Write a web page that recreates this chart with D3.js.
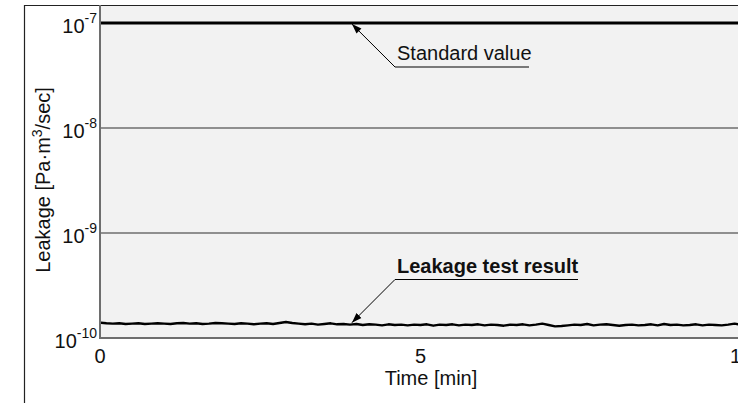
<!DOCTYPE html>
<html>
<head>
<meta charset="utf-8">
<script src="https://cdn.jsdelivr.net/npm/d3@7"></script>
<style>
  html, body { margin: 0; padding: 0; background: #ffffff; }
  svg { display: block; font-family: "Liberation Sans", Arial, Helvetica, sans-serif; }
</style>
</head>
<body>
<svg id="chart" width="738" height="403"></svg>
<script>
// ---- Data ----
const timeMin = d3.range(0, 101).map(i => +(i * 0.1).toFixed(1)); // sample times [min]
const leakageE10 = [
  1.40,1.38,1.37,1.38,1.36,1.37,1.38,1.36,1.37,1.38,
  1.37,1.36,1.38,1.39,1.37,1.38,1.36,1.37,1.39,1.38,
  1.37,1.36,1.38,1.37,1.35,1.37,1.38,1.36,1.39,1.42,
  1.39,1.37,1.35,1.37,1.34,1.36,1.38,1.35,1.36,1.34,
  1.36,1.33,1.35,1.34,1.32,1.35,1.33,1.34,1.32,1.34,
  1.33,1.35,1.31,1.34,1.33,1.35,1.32,1.34,1.33,1.35,
  1.32,1.34,1.33,1.31,1.34,1.33,1.35,1.32,1.34,1.37,
  1.33,1.29,1.30,1.32,1.34,1.33,1.36,1.32,1.34,1.35,
  1.33,1.31,1.33,1.34,1.32,1.33,1.35,1.32,1.36,1.33,
  1.34,1.32,1.33,1.35,1.32,1.34,1.33,1.32,1.34,1.37,
  1.34
]; // leakage in units of 1e-10 Pa·m³/sec
const standardValue = 1e-7;
const xTicks = [0, 5, 10];
const yTickExponents = [-7, -8, -9, -10];
const labels = {
  x: "Time [min]",
  y: ["Leakage [Pa·m", "3", "/sec]"],
  standard: "Standard value",
  result: "Leakage test result"
};

// ---- Layout ----
const W = 738, H = 403;
const plot = { left: 100, top: 5, bottom: 338, right: 738 };
const svg = d3.select("#chart");

const x = d3.scaleLinear().domain([0, 10]).range([plot.left, 741]);
const y = d3.scaleLog()
  .domain([1e-10, Math.pow(10, -7 + 18 / 105)])
  .range([plot.bottom, plot.top]);

const leak = timeMin.map((t, i) => ({ t, v: leakageE10[i] * 1e-10 }));

// plot background
svg.append("rect")
  .attr("x", plot.left).attr("y", plot.top)
  .attr("width", plot.right - plot.left).attr("height", plot.bottom - plot.top)
  .attr("fill", "#f2f2f2");

// gridlines (except top standard line)
yTickExponents.filter(e => e !== -7 && e !== -10).forEach(e => {
  svg.append("line")
    .attr("x1", plot.left).attr("x2", plot.right)
    .attr("y1", y(Math.pow(10, e))).attr("y2", y(Math.pow(10, e)))
    .attr("stroke", "#6e6e6e").attr("stroke-width", 1.6);
});

// outer frame
svg.append("line").attr("x1", 24.5).attr("x2", 24.5).attr("y1", 5).attr("y2", H)
  .attr("stroke", "#222").attr("stroke-width", 1.2);
svg.append("line").attr("x1", 24).attr("x2", W).attr("y1", 5.5).attr("y2", 5.5)
  .attr("stroke", "#222").attr("stroke-width", 1.2);

// axes lines
svg.append("line").attr("x1", plot.left).attr("x2", plot.left)
  .attr("y1", plot.top).attr("y2", plot.bottom + 1)
  .attr("stroke", "#6e6e6e").attr("stroke-width", 2);
svg.append("line").attr("x1", plot.left - 1).attr("x2", plot.right)
  .attr("y1", plot.bottom).attr("y2", plot.bottom)
  .attr("stroke", "#6e6e6e").attr("stroke-width", 2);

// standard value line
svg.append("line")
  .attr("x1", plot.left + 1).attr("x2", plot.right)
  .attr("y1", y(standardValue)).attr("y2", y(standardValue))
  .attr("stroke", "#000").attr("stroke-width", 3);

// leakage line (clipped to plot)
svg.append("clipPath").attr("id", "clip").append("rect")
  .attr("x", plot.left + 1).attr("y", plot.top)
  .attr("width", plot.right - plot.left).attr("height", plot.bottom - plot.top - 1);
svg.append("path")
  .datum(leak)
  .attr("clip-path", "url(#clip)")
  .attr("fill", "none").attr("stroke", "#000").attr("stroke-width", 2.4)
  .attr("stroke-linejoin", "round")
  .attr("d", d3.line().x(d => x(d.t)).y(d => y(d.v)));

// y tick labels
const fs = 20;
yTickExponents.forEach(e => {
  const yy = y(Math.pow(10, e));
  const t = svg.append("text")
    .attr("x", 97).attr("y", yy + 10)
    .attr("text-anchor", "end")
    .attr("font-size", fs).attr("fill", "#111");
  t.append("tspan").text("10");
  t.append("tspan").attr("dy", -10).attr("font-size", 14).text(String(e));
});

// x tick labels
xTicks.forEach(v => {
  svg.append("text")
    .attr("x", x(v)).attr("y", 363)
    .attr("text-anchor", "middle")
    .attr("font-size", fs).attr("fill", "#111")
    .text(v);
});

// axis titles
svg.append("text")
  .attr("x", 431).attr("y", 385)
  .attr("text-anchor", "middle")
  .attr("font-size", fs).attr("fill", "#111")
  .text(labels.x);

const yl = svg.append("text")
  .attr("transform", "translate(50,180) rotate(-90)")
  .attr("text-anchor", "middle")
  .attr("font-size", fs).attr("fill", "#111");
yl.append("tspan").text(labels.y[0]);
yl.append("tspan").attr("dy", -8).attr("font-size", 14).text(labels.y[1]);
yl.append("tspan").attr("dy", 8).text(labels.y[2]);

// arrow marker
svg.append("defs").append("marker")
  .attr("id", "arrow").attr("viewBox", "0 0 10 10")
  .attr("refX", 10).attr("refY", 5)
  .attr("markerWidth", 10).attr("markerHeight", 10)
  .attr("markerUnits", "userSpaceOnUse")
  .attr("orient", "auto")
  .append("path").attr("d", "M0,1.5 L10,5 L0,8.5 Z").attr("fill", "#000");

// annotation: standard value
const tipX = x(3.93);
const stdTipY = y(standardValue) + 1;
svg.append("line")
  .attr("x1", 395).attr("y1", 67).attr("x2", tipX).attr("y2", stdTipY)
  .attr("stroke", "#000").attr("stroke-width", 1).attr("marker-end", "url(#arrow)");
svg.append("line")
  .attr("x1", 395).attr("x2", 529).attr("y1", 67).attr("y2", 67)
  .attr("stroke", "#000").attr("stroke-width", 1);
svg.append("text")
  .attr("x", 397).attr("y", 60)
  .attr("font-size", fs).attr("fill", "#111")
  .text(labels.standard);

// annotation: leakage test result
const resIdx = 39;
const resTipY = y(leak[resIdx].v) - 2;
svg.append("line")
  .attr("x1", 395).attr("y1", 279.5).attr("x2", tipX).attr("y2", resTipY)
  .attr("stroke", "#000").attr("stroke-width", 1).attr("marker-end", "url(#arrow)");
svg.append("line")
  .attr("x1", 395).attr("x2", 578).attr("y1", 279.5).attr("y2", 279.5)
  .attr("stroke", "#000").attr("stroke-width", 1);
svg.append("text")
  .attr("x", 397).attr("y", 272.5)
  .attr("font-size", fs).attr("font-weight", "bold").attr("fill", "#111")
  .text(labels.result);
</script>
</body>
</html>
